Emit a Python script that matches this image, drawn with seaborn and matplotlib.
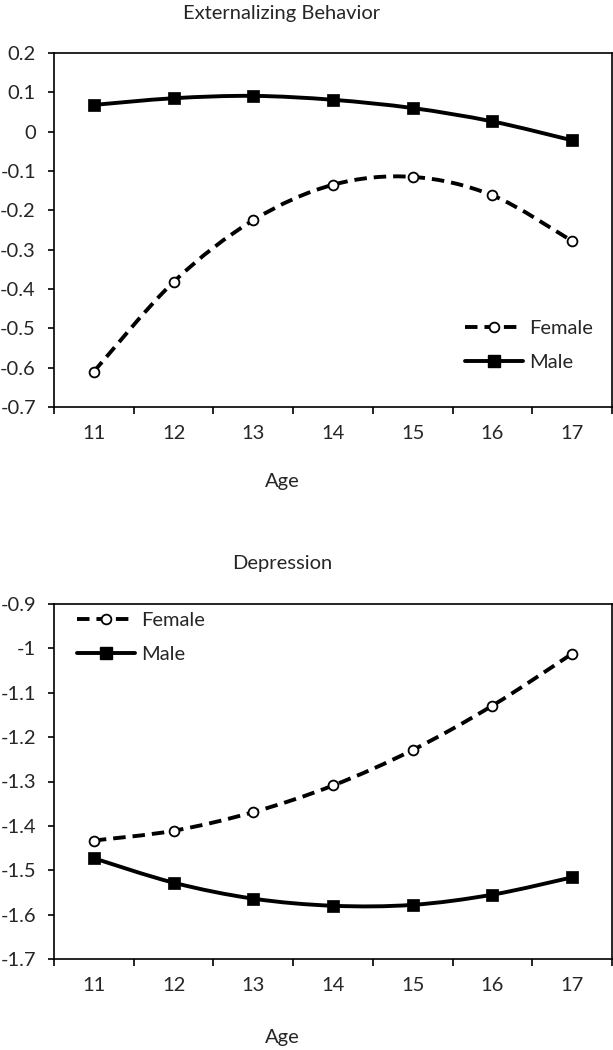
import numpy as np
import seaborn as sns
import matplotlib.pyplot as plt
from matplotlib.path import Path
from matplotlib.patches import PathPatch
from matplotlib.lines import Line2D

# ---------------------------------
# Data
# ---------------------------------
ages = [11, 12, 13, 14, 15, 16, 17]

ext_female = [-0.610, -0.382, -0.225, -0.135, -0.115, -0.162, -0.278]
ext_male = [0.068, 0.085, 0.091, 0.081, 0.060, 0.026, -0.022]

dep_female = [-1.433, -1.411, -1.369, -1.309, -1.229, -1.129, -1.012]
dep_male = [-1.473, -1.528, -1.564, -1.580, -1.578, -1.555, -1.516]

ext_yticks = [0.2, 0.1, 0.0, -0.1, -0.2, -0.3, -0.4, -0.5, -0.6, -0.7]
dep_yticks = [-0.9, -1.0, -1.1, -1.2, -1.3, -1.4, -1.5, -1.6, -1.7]

# ---------------------------------
# Configure
# ---------------------------------
sns.set_theme(style="ticks")
plt.rcParams['font.family'] = ['Lato', 'DejaVu Sans']
plt.rcParams['axes.unicode_minus'] = False
plt.rcParams['lines.scale_dashes'] = False

FS = 14.5
LW = 2.8
DASH = (0, (9, 5))


def smooth_path(x, y):
    """Smooth (Excel-like) bezier path through the points."""
    pts = np.column_stack([x, y]).astype(float)
    ext = np.vstack([pts[0], pts, pts[-1]])
    verts = [pts[0]]
    for i in range(len(pts) - 1):
        p0, p1, p2, p3 = ext[i], ext[i + 1], ext[i + 2], ext[i + 3]
        verts += [p1 + (p2 - p0) / 6, p2 - (p3 - p1) / 6, p2]
    codes = [Path.MOVETO] + [Path.CURVE4] * (len(verts) - 1)
    return Path(verts, codes)


def draw_panel(ax, female, male, yticks):
    # Lines
    ax.add_patch(PathPatch(smooth_path(ages, male), fill=False,
                           edgecolor='black', lw=LW, capstyle='butt'))
    ax.add_patch(PathPatch(smooth_path(ages, female), fill=False,
                           edgecolor='black', lw=LW, linestyle=DASH,
                           capstyle='butt'))

    # Markers
    sns.scatterplot(x=ages, y=male, marker='s', s=72, color='black',
                    edgecolor='black', linewidth=0.5, zorder=3, ax=ax,
                    legend=False)
    sns.scatterplot(x=ages, y=female, marker='o', s=50, color='white',
                    edgecolor='black', linewidth=1.3, zorder=3, ax=ax,
                    legend=False)

    # Axes
    ax.set_xlim(10.5, 17.5)
    ax.set_ylim(min(yticks), max(yticks))
    ax.set_xticks(ages)
    ax.set_xticklabels([str(a) for a in ages], fontsize=FS)
    ax.set_xticks(np.arange(10.5, 18.0, 1.0), minor=True)
    ax.set_yticks(yticks)
    ax.set_yticklabels([f"{round(v, 1) + 0:g}" for v in yticks], fontsize=FS)
    ax.tick_params(axis='x', which='major', length=0, pad=13)
    ax.tick_params(axis='x', which='minor', length=5, width=1.2,
                   direction='out', color='black')
    ax.tick_params(axis='y', length=4.5, width=1.2, direction='out',
                   pad=8.5, color='black')
    for s in ax.spines.values():
        s.set_visible(True)
        s.set_linewidth(1.2)
        s.set_color('black')
    ax.set_xlabel('')
    ax.set_ylabel('')


def add_legend(ax, x_px, y_px):
    handles = [
        Line2D([], [], color='black', lw=LW, linestyle=DASH, marker='o',
               markersize=7, markerfacecolor='white',
               markeredgecolor='black', markeredgewidth=1.3),
        Line2D([], [], color='black', lw=LW, marker='s', markersize=8.5),
    ]
    ax.legend(handles, ['Female', 'Male'], loc='upper left',
              bbox_to_anchor=(x_px / 613, 1 - y_px / 1050),
              bbox_transform=fig.transFigure, frameon=False,
              fontsize=FS, handlelength=2.9, handletextpad=0.3,
              labelspacing=0.85, borderpad=0, borderaxespad=0)


# ---------------------------------
# Plot
# ---------------------------------
fig = plt.figure(figsize=(6.13, 10.5), dpi=100)
ax1 = fig.add_axes([54 / 613, 1 - 407 / 1050, 558 / 613, 354 / 1050])
ax2 = fig.add_axes([54 / 613, 1 - 959 / 1050, 558 / 613, 355 / 1050])

draw_panel(ax1, ext_female, ext_male, ext_yticks)
draw_panel(ax2, dep_female, dep_male, dep_yticks)

add_legend(ax1, 465, 320)
add_legend(ax2, 77, 612)

# Titles and axis labels
tx = 282 / 613
fig.text(tx, 1 - 13 / 1050, 'Externalizing Behavior', ha='center',
         va='center', fontsize=FS)
fig.text(tx, 1 - 482 / 1050, 'Age', ha='center', va='center', fontsize=FS)
fig.text(tx, 1 - 563 / 1050, 'Depression', ha='center', va='center',
         fontsize=FS)
fig.text(tx, 1 - 1037 / 1050, 'Age', ha='center', va='center', fontsize=FS)

fig.savefig('out.png', dpi=100)
